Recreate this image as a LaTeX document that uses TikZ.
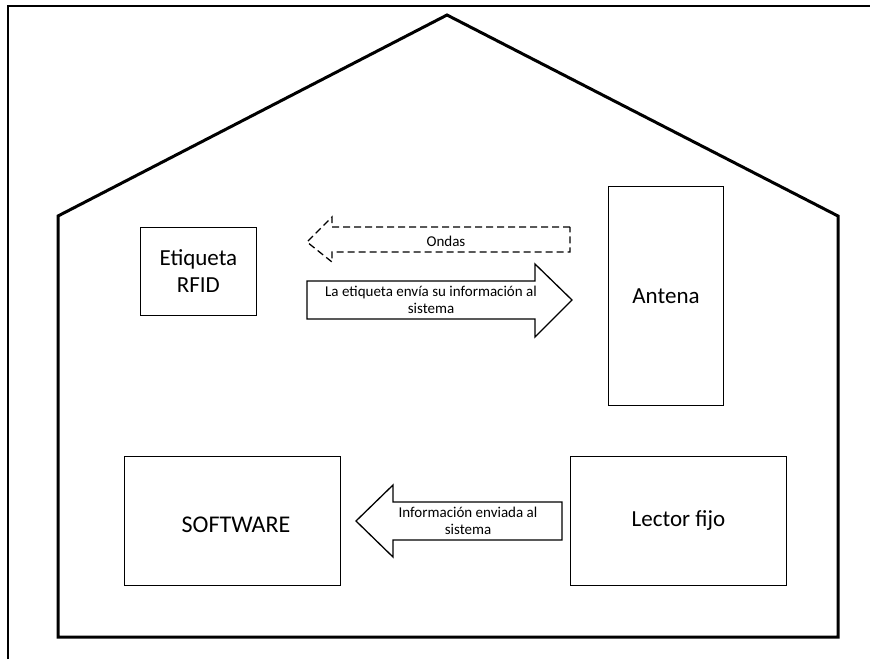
\documentclass[tikz,border=0pt]{standalone}
\usepackage{fontspec}
\setmainfont{Carlito}
\begin{document}
\begin{tikzpicture}[x=1pt,y=-1pt,
    caja/.style={draw,line width=1.6pt,align=center,inner sep=0pt,font=\fontsize{23}{27}\selectfont},
    flecha/.style={draw,line width=1.3pt,line join=miter},
    rotulo/.style={align=center,inner sep=0pt,font=\fontsize{15}{17.5}\selectfont}]
   \useasboundingbox (0,0) rectangle (870,659);
   % marco y casa
   \draw[line width=2.6pt] (8,659) -- (8,6) -- (870,6);
   \draw[line width=3pt,line join=miter] (58,216) -- (447,15) -- (838,216) -- (838,637) -- (58,637) -- cycle;
   % cajas
   \node[caja,minimum width=116pt,minimum height=88pt] (etiqueta) at (198.4,271.5) {Etiqueta\\RFID};
   \node[caja,minimum width=115pt,minimum height=219pt] (antena) at (666,296) {Antena};
   \node[caja,minimum width=216pt,minimum height=129pt] (software) at (232.3,521) {};
   \node (txtsoftware) at (236,525) {\fontsize{24}{27}\selectfont SOFTWARE};
   \node[caja,minimum width=216pt,minimum height=129pt] (lector) at (678.4,521) {Lector fijo};
   % flechas
   \draw[flecha,dash pattern=on 7pt off 4pt] (570,227) -- (332,227) -- (332,217) -- (307,242) -- (332,262) -- (332,252) -- (570,252) -- cycle;
   \node[rotulo] (ondas) at (446,241) {Ondas};
   \draw[flecha] (307,281) -- (535,281) -- (535,264) -- (572,300) -- (535,337) -- (535,319) -- (307,319) -- cycle;
   \node[rotulo] (envia) at (431,300) {La etiqueta envía su información al\\sistema};
   \draw[flecha] (562,502) -- (393,502) -- (393,485) -- (356,521) -- (393,557) -- (393,540) -- (562,540) -- cycle;
   \node[rotulo] (enviada) at (468,521) {Información enviada al\\sistema};
\end{tikzpicture}
\end{document}
